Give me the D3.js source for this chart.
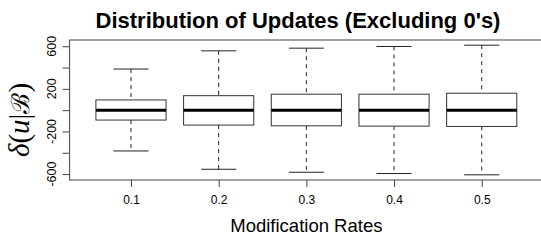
<!DOCTYPE html>
<html>
<head>
<meta charset="utf-8">
<script src="https://cdn.jsdelivr.net/npm/d3@7"></script>
<style>
  body { margin: 0; background: #fff; }
  text { font-family: "Liberation Sans", Arial, Helvetica, sans-serif; fill: #000; }
</style>
</head>
<body>
<script>
// modification rates (one box per rate)
var rates = ["0.1", "0.2", "0.3", "0.4", "0.5"]
// box stats
var lowerWhisker = [-383, -555, -583, -595, -607]
var q1 = [-93, -140, -147, -150, -153]
var median = [0, 0, 0, 0, 0]
var q3 = [96, 136, 150, 150, 159]
var upperWhisker = [386, 557, 582, 598, 610]
var yTicks = [-600, -400, -200, 0, 200, 400, 600]
var yTickLabels = [-600, -200, 200, 600]

var width = 541, height = 240
var margin = { left: 69.6, right: -2.1, top: 40, bottom: 60 }

var svg = d3.select("body").append("svg")
	.attr("width", width)
	.attr("height", height)

var boxes = rates.map((r, i) => ({
	rate: r, idx: i + 1,
	lo: lowerWhisker[i], q1: q1[i], med: median[i], q3: q3[i], hi: upperWhisker[i]
}))

// R style limits: 0.5..n+0.5 and data range, each padded by 4%
var xlo = 0.5, xhi = rates.length + 0.5
var xpad = (xhi - xlo) * 0.04
var x = d3.scaleLinear()
	.domain([xlo - xpad, xhi + xpad])
	.range([margin.left, width - margin.right])

var ymin = d3.min(lowerWhisker), ymax = d3.max(upperWhisker)
var ypad = (ymax - ymin) * 0.04
var y = d3.scaleLinear()
	.domain([ymin - ypad, ymax + ypad])
	.range([height - margin.bottom, margin.top])

var unit = x(2) - x(1)
var boxW = unit * 0.8
var capW = boxW * 0.5

var g = svg.selectAll("g.box")
	.data(boxes)
	.enter()
	.append("g")
	.attr("class", "box")

// whiskers (dashed)
g.append("line")
	.attr("x1", d => x(d.idx)).attr("x2", d => x(d.idx))
	.attr("y1", d => y(d.hi)).attr("y2", d => y(d.q3))
	.attr("stroke", "#222").attr("stroke-dasharray", "4,4")
g.append("line")
	.attr("x1", d => x(d.idx)).attr("x2", d => x(d.idx))
	.attr("y1", d => y(d.q1)).attr("y2", d => y(d.lo))
	.attr("stroke", "#222").attr("stroke-dasharray", "4,4")
// caps
g.append("line")
	.attr("x1", d => x(d.idx) - capW / 2).attr("x2", d => x(d.idx) + capW / 2)
	.attr("y1", d => y(d.hi)).attr("y2", d => y(d.hi))
	.attr("stroke", "#222")
g.append("line")
	.attr("x1", d => x(d.idx) - capW / 2).attr("x2", d => x(d.idx) + capW / 2)
	.attr("y1", d => y(d.lo)).attr("y2", d => y(d.lo))
	.attr("stroke", "#222")
// box
g.append("rect")
	.attr("x", d => x(d.idx) - boxW / 2)
	.attr("width", boxW)
	.attr("y", d => y(d.q3))
	.attr("height", d => y(d.q1) - y(d.q3))
	.attr("fill", "#fff")
	.attr("stroke", "#333")
// median
g.append("line")
	.attr("x1", d => x(d.idx) - boxW / 2).attr("x2", d => x(d.idx) + boxW / 2)
	.attr("y1", d => y(d.med)).attr("y2", d => y(d.med))
	.attr("stroke", "#000").attr("stroke-width", 3)

// plot frame
svg.append("rect")
	.attr("x", x.range()[0]).attr("y", y.range()[1])
	.attr("width", x.range()[1] - x.range()[0])
	.attr("height", y.range()[0] - y.range()[1])
	.attr("fill", "none").attr("stroke", "#444")

// x axis
var xAxis = svg.append("g")
	.attr("transform", "translate(0," + y.range()[0] + ")")
	.call(d3.axisBottom(x)
		.tickValues(boxes.map(d => d.idx))
		.tickFormat((d, i) => rates[i])
		.tickSize(7).tickPadding(8))
xAxis.select(".domain").remove()
xAxis.selectAll("line").attr("stroke", "#444")
xAxis.selectAll("text").attr("font-size", 12).attr("font-family", null)

// y axis
var yAxis = svg.append("g")
	.attr("transform", "translate(" + x.range()[0] + ",0)")
	.call(d3.axisLeft(y).tickValues(yTicks).tickSize(7).tickFormat(""))
yAxis.select(".domain").remove()
yAxis.selectAll("line").attr("stroke", "#444")
svg.selectAll("text.ylab")
	.data(yTickLabels)
	.enter()
	.append("text")
	.attr("class", "ylab")
	.attr("transform", d => "translate(56," + y(d) + ") rotate(-90)")
	.attr("text-anchor", "middle")
	.attr("font-size", 12.5)
	.text(d => String(d))

// titles
svg.append("text")
	.attr("x", 298).attr("y", 28)
	.attr("text-anchor", "middle")
	.attr("font-size", 22).attr("font-weight", "bold")
	.text("Distribution of Updates (Excluding 0's)")

svg.append("text")
	.attr("x", (x.range()[0] + x.range()[1]) / 2).attr("y", 232)
	.attr("text-anchor", "middle")
	.attr("font-size", 18.5)
	.text("Modification Rates")

var ylab = svg.append("text")
	.attr("transform", "translate(29,120) rotate(-90)")
	.attr("text-anchor", "middle")
	.attr("font-size", 29)
	.style("font-family", "'Liberation Serif', 'DejaVu Serif', serif")
ylab.append("tspan").attr("font-style", "italic").text("δ")
ylab.append("tspan").text("(")
ylab.append("tspan").attr("font-style", "italic").text("u")
ylab.append("tspan").text("|")
ylab.append("tspan").style("font-family", "'DejaVu Serif', serif").attr("font-size", 25).text("ℬ")
ylab.append("tspan").text(")")
</script>
</body>
</html>
